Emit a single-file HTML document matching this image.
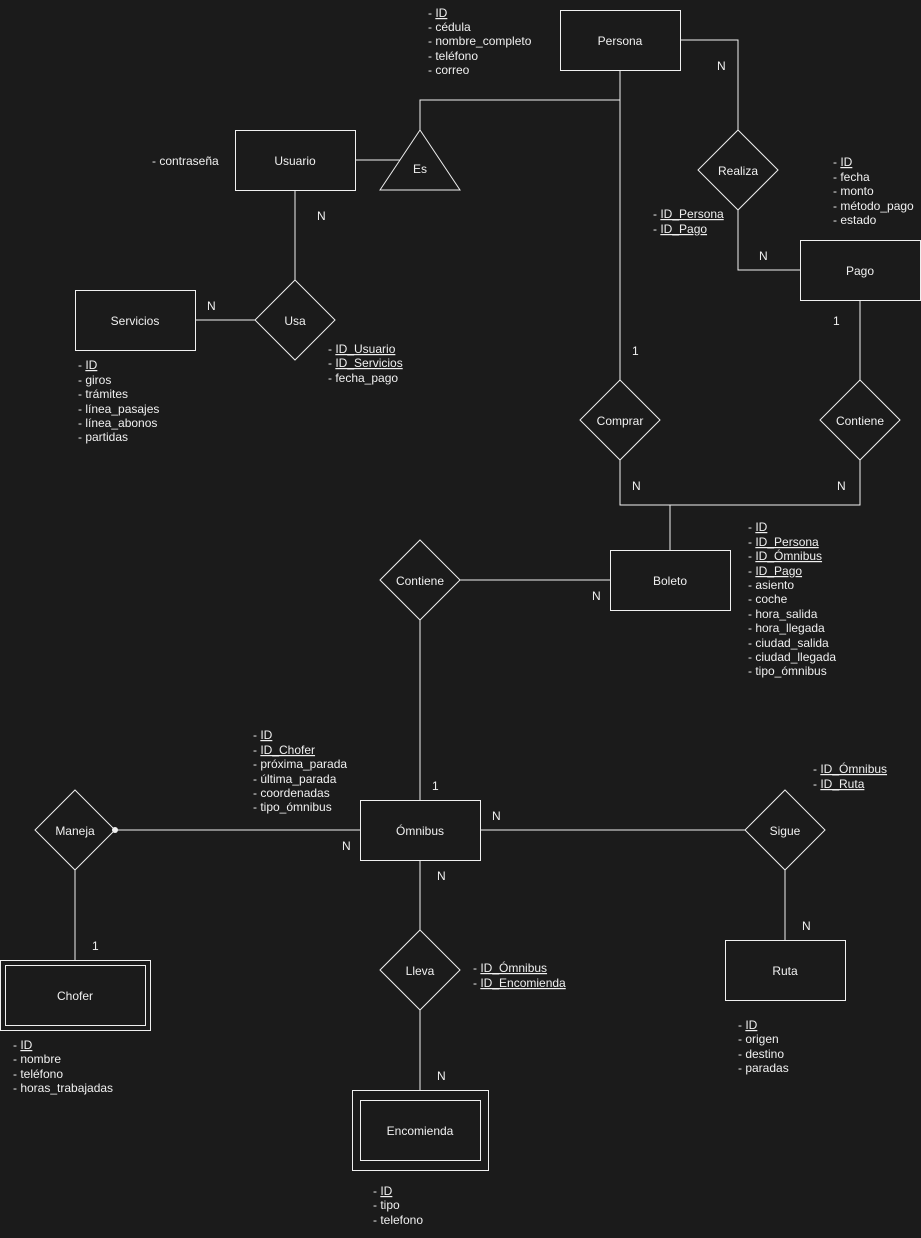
<!DOCTYPE html>
<html><head><meta charset="utf-8"><style>
html,body{margin:0;padding:0;background:#1b1b1b;}
svg{display:block;}
text{font-family:"Liberation Sans",sans-serif;font-size:12px;fill:#f0f0f0;dominant-baseline:middle;}
.c{text-anchor:middle;}
.u{text-decoration:underline;}
</style></head><body>
<svg width="921" height="1238" viewBox="0 0 921 1238" xmlns="http://www.w3.org/2000/svg">
<rect width="921" height="1238" fill="#1b1b1b"/>
<g stroke="#f0f0f0" stroke-width="1" fill="none">
<polyline points="400,160 355,160"/>
<polyline points="420,130 420,100 620,100"/>
<line x1="620" y1="70" x2="620" y2="380"/>
<polyline points="680,40 738,40 738,130"/>
<polyline points="738,210 738,270 800,270"/>
<line x1="860" y1="300" x2="860" y2="380"/>
<polyline points="860,460 860,505 620,505 620,460"/>
<line x1="670" y1="505" x2="670" y2="550"/>
<line x1="460" y1="580" x2="610" y2="580"/>
<line x1="420" y1="620" x2="420" y2="800"/>
<line x1="115" y1="830" x2="360" y2="830"/>
<line x1="75" y1="870" x2="75" y2="960"/>
<line x1="480" y1="830" x2="745" y2="830"/>
<line x1="785" y1="870" x2="785" y2="940"/>
<line x1="420" y1="860" x2="420" y2="930"/>
<line x1="420" y1="1010" x2="420" y2="1090"/>
<line x1="295" y1="190" x2="295" y2="280"/>
<line x1="255" y1="320" x2="195" y2="320"/>
<rect x="560.5" y="10.5" width="120" height="60"/>
<rect x="235.5" y="130.5" width="120" height="60"/>
<rect x="800.5" y="240.5" width="120" height="60"/>
<rect x="610.5" y="550.5" width="120" height="60"/>
<rect x="360.5" y="800.5" width="120" height="60"/>
<rect x="0.5" y="960.5" width="150" height="70"/>
<rect x="5.5" y="965.5" width="140" height="60"/>
<rect x="725.5" y="940.5" width="120" height="60"/>
<rect x="352.5" y="1090.5" width="136" height="80"/>
<rect x="360.5" y="1100.5" width="120" height="60"/>
<rect x="75.5" y="290.5" width="120" height="60"/>
<polygon points="380,190 420,130 460,190"/>
<polygon points="738,130 778,170 738,210 698,170"/>
<polygon points="860,380 900,420 860,460 820,420"/>
<polygon points="620,380 660,420 620,460 580,420"/>
<polygon points="420,540 460,580 420,620 380,580"/>
<polygon points="75,790 115,830 75,870 35,830"/>
<polygon points="785,790 825,830 785,870 745,830"/>
<polygon points="420,930 460,970 420,1010 380,970"/>
<polygon points="295,280 335,320 295,360 255,320"/>
</g>
<circle cx="115" cy="830" r="3" fill="#f0f0f0"/>
<g transform="translate(0,1)">
<text class="c" x="620" y="41">Persona</text>
<text class="c" x="295" y="161">Usuario</text>
<text class="c" x="420" y="169">Es</text>
<text class="c" x="860" y="271">Pago</text>
<text class="c" x="670" y="581">Boleto</text>
<text class="c" x="420" y="831">Ómnibus</text>
<text class="c" x="75" y="996">Chofer</text>
<text class="c" x="785" y="971">Ruta</text>
<text class="c" x="420" y="1131">Encomienda</text>
<text class="c" x="135" y="321">Servicios</text>
<text class="c" x="738" y="171">Realiza</text>
<text class="c" x="860" y="421">Contiene</text>
<text class="c" x="620" y="421">Comprar</text>
<text class="c" x="420" y="581">Contiene</text>
<text class="c" x="75" y="831">Maneja</text>
<text class="c" x="785" y="831">Sigue</text>
<text class="c" x="420" y="971">Lleva</text>
<text class="c" x="295" y="321">Usa</text>
<text x="717" y="66">N</text>
<text x="759" y="256">N</text>
<text x="833" y="321">1</text>
<text x="632" y="351">1</text>
<text x="632" y="486">N</text>
<text x="837" y="486">N</text>
<text x="592" y="596">N</text>
<text x="432" y="786">1</text>
<text x="342" y="846">N</text>
<text x="92" y="946">1</text>
<text x="492" y="816">N</text>
<text x="802" y="926">N</text>
<text x="437" y="876">N</text>
<text x="437" y="1076">N</text>
<text x="317" y="216">N</text>
<text x="207" y="306">N</text>
<text x="428" y="13">- <tspan class="u">ID</tspan></text>
<text x="428" y="27">- cédula</text>
<text x="428" y="41">- nombre_completo</text>
<text x="428" y="56">- teléfono</text>
<text x="428" y="70">- correo</text>
<text x="152" y="161">- contraseña</text>
<text x="653" y="214">- <tspan class="u">ID_Persona</tspan></text>
<text x="653" y="229">- <tspan class="u">ID_Pago</tspan></text>
<text x="833" y="162">- <tspan class="u">ID</tspan></text>
<text x="833" y="177">- fecha</text>
<text x="833" y="191">- monto</text>
<text x="833" y="206">- método_pago</text>
<text x="833" y="220">- estado</text>
<text x="748" y="527">- <tspan class="u">ID</tspan></text>
<text x="748" y="542">- <tspan class="u">ID_Persona</tspan></text>
<text x="748" y="556">- <tspan class="u">ID_Ómnibus</tspan></text>
<text x="748" y="571">- <tspan class="u">ID_Pago</tspan></text>
<text x="748" y="585">- asiento</text>
<text x="748" y="599">- coche</text>
<text x="748" y="614">- hora_salida</text>
<text x="748" y="628">- hora_llegada</text>
<text x="748" y="643">- ciudad_salida</text>
<text x="748" y="657">- ciudad_llegada</text>
<text x="748" y="671">- tipo_ómnibus</text>
<text x="253" y="735">- <tspan class="u">ID</tspan></text>
<text x="253" y="750">- <tspan class="u">ID_Chofer</tspan></text>
<text x="253" y="764">- próxima_parada</text>
<text x="253" y="779">- última_parada</text>
<text x="253" y="793">- coordenadas</text>
<text x="253" y="807">- tipo_ómnibus</text>
<text x="813" y="769">- <tspan class="u">ID_Ómnibus</tspan></text>
<text x="813" y="784">- <tspan class="u">ID_Ruta</tspan></text>
<text x="13" y="1045">- <tspan class="u">ID</tspan></text>
<text x="13" y="1059">- nombre</text>
<text x="13" y="1074">- teléfono</text>
<text x="13" y="1088">- horas_trabajadas</text>
<text x="738" y="1025">- <tspan class="u">ID</tspan></text>
<text x="738" y="1039">- origen</text>
<text x="738" y="1054">- destino</text>
<text x="738" y="1068">- paradas</text>
<text x="473" y="968">- <tspan class="u">ID_Ómnibus</tspan></text>
<text x="473" y="983">- <tspan class="u">ID_Encomienda</tspan></text>
<text x="373" y="1191">- <tspan class="u">ID</tspan></text>
<text x="373" y="1205">- tipo</text>
<text x="373" y="1220">- telefono</text>
<text x="78" y="365">- <tspan class="u">ID</tspan></text>
<text x="78" y="380">- giros</text>
<text x="78" y="394">- trámites</text>
<text x="78" y="409">- línea_pasajes</text>
<text x="78" y="423">- línea_abonos</text>
<text x="78" y="437">- partidas</text>
<text x="328" y="349">- <tspan class="u">ID_Usuario</tspan></text>
<text x="328" y="363">- <tspan class="u">ID_Servicios</tspan></text>
<text x="328" y="378">- fecha_pago</text>
</g>
</svg>
</body></html>
